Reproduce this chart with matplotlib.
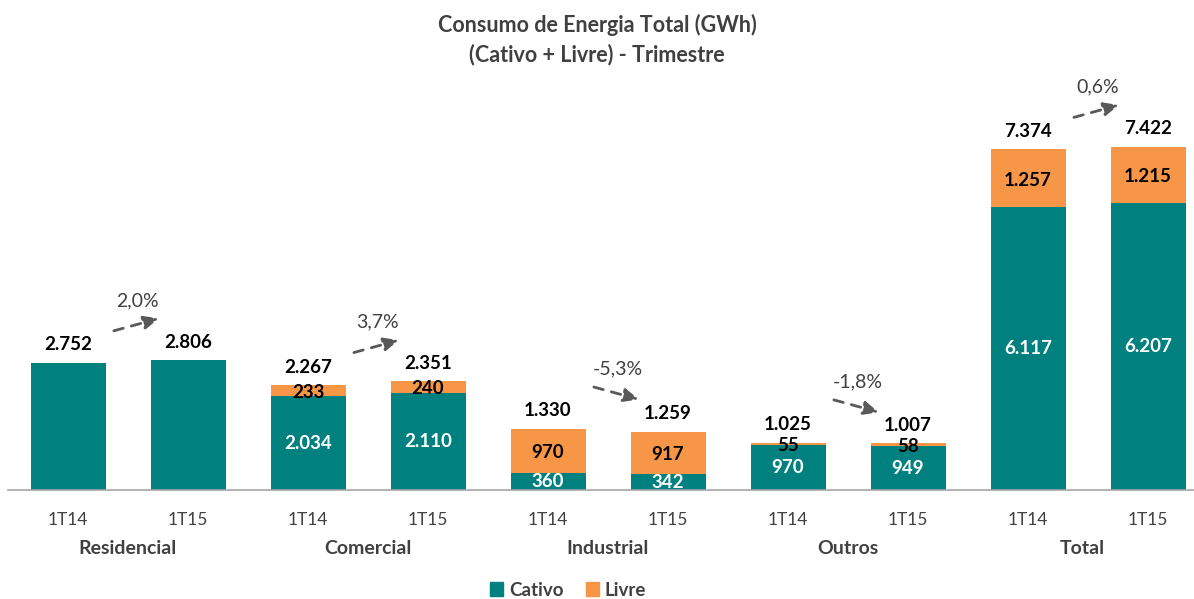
import matplotlib
matplotlib.use('Agg')
import matplotlib.pyplot as plt
import numpy as np
from matplotlib.patches import Patch
from matplotlib.transforms import blended_transform_factory

plt.rcParams['font.family'] = ['Lato', 'DejaVu Sans']

# data (GWh)
groups = ['Residencial', 'Comercial', 'Industrial', 'Outros', 'Total']
periods = ['1T14', '1T15']
cativo = [2752, 2806, 2034, 2110, 360, 342, 970, 949, 6117, 6207]
livre = [0, 0, 233, 240, 970, 917, 55, 58, 1257, 1215]
totals = [2752, 2806, 2267, 2351, 1330, 1259, 1025, 1007, 7374, 7422]
variation = ['2,0%', '3,7%', '-5,3%', '-1,8%', '0,6%']

TEAL = '#00807F'
ORANGE = '#F79646'
GRAY = '#404040'


def fmt(v):
    return f'{v:,}'.replace(',', '.')


fig = plt.figure(figsize=(11.94, 5.99), dpi=100)
ax = fig.add_axes([8 / 1194, 109 / 599, 1186 / 1194, 390 / 599])

x = np.arange(len(cativo))
width = 0.625
ax.bar(x, cativo, width, color=TEAL)
ax.bar(x, livre, width, bottom=cativo, color=ORANGE)

ax.set_xlim(-0.5, 1186 / 120 - 0.5)
ax.set_ylim(0, 8440)

for i in range(len(x)):
    c, l, t = cativo[i], livre[i], totals[i]
    top = c + l
    ax.annotate(fmt(t), (x[i], top), xytext=(0, 13), textcoords='offset points',
                ha='center', va='center', fontsize=13.5, fontweight='bold', color='black')
    if l > 0:
        ax.text(x[i], c + l / 2 - 40, fmt(l), ha='center', va='center',
                fontsize=13.5, fontweight='bold', color='black')
        ax.text(x[i], c / 2, fmt(c), ha='center', va='center',
                fontsize=13.5, fontweight='bold', color='white')

# variation arrows between periods
for g in range(len(groups)):
    a, b = 2 * g, 2 * g + 1
    top_a = cativo[a] + livre[a]
    top_b = cativo[b] + livre[b]
    sign = 1 if not variation[g].startswith('-') else -1
    mid = (top_a + top_b) / 2 + 800
    y0, y1 = mid - sign * 150, mid + sign * 150
    ax.annotate('', xy=(a + 0.78, y1), xytext=(a + 0.36, y0),
                arrowprops=dict(arrowstyle='-|>,head_length=0.9,head_width=0.4',
                                linestyle=(0, (3.5, 3)), color='#595959', lw=2))
    ax.text(a + 0.58, max(y0, y1) + 370, variation[g], ha='center', va='center',
            fontsize=14, color=GRAY)

for s in ['top', 'right', 'left']:
    ax.spines[s].set_visible(False)
ax.spines['bottom'].set_color('#A6A6A6')
ax.spines['bottom'].set_linewidth(1.2)
ax.set_yticks([])
ax.set_xticks(x)
ax.set_xticklabels(periods * len(groups), fontsize=12.5, color=GRAY)
ax.tick_params(axis='x', length=0, pad=16)

trans = blended_transform_factory(ax.transData, ax.transAxes)
for g, name in enumerate(groups):
    ax.text(2 * g + 0.5 if name != 'Total' else 2 * g + 0.45, -0.151, name,
            transform=trans, ha='center', va='center', fontsize=14,
            fontweight='bold', color=GRAY)

fig.text(0.5, 1 - 25 / 599, 'Consumo de Energia Total (GWh)', ha='center', va='center',
         fontsize=15.5, fontweight='bold', color=GRAY)
fig.text(0.5, 1 - 55 / 599, '(Cativo + Livre) - Trimestre', ha='center', va='center',
         fontsize=15.5, fontweight='bold', color=GRAY)

handles = [Patch(color=TEAL, label='Cativo'), Patch(color=ORANGE, label='Livre')]
fig.legend(handles=handles, loc='center', bbox_to_anchor=(568 / 1194, 1 - 590 / 599),
           ncol=2, frameon=False, handlelength=0.7, handleheight=0.7, handletextpad=0.3,
           columnspacing=1.2, prop={'weight': 'bold', 'size': 13.5}, labelcolor=GRAY)

fig.savefig('out.png', dpi=100)
